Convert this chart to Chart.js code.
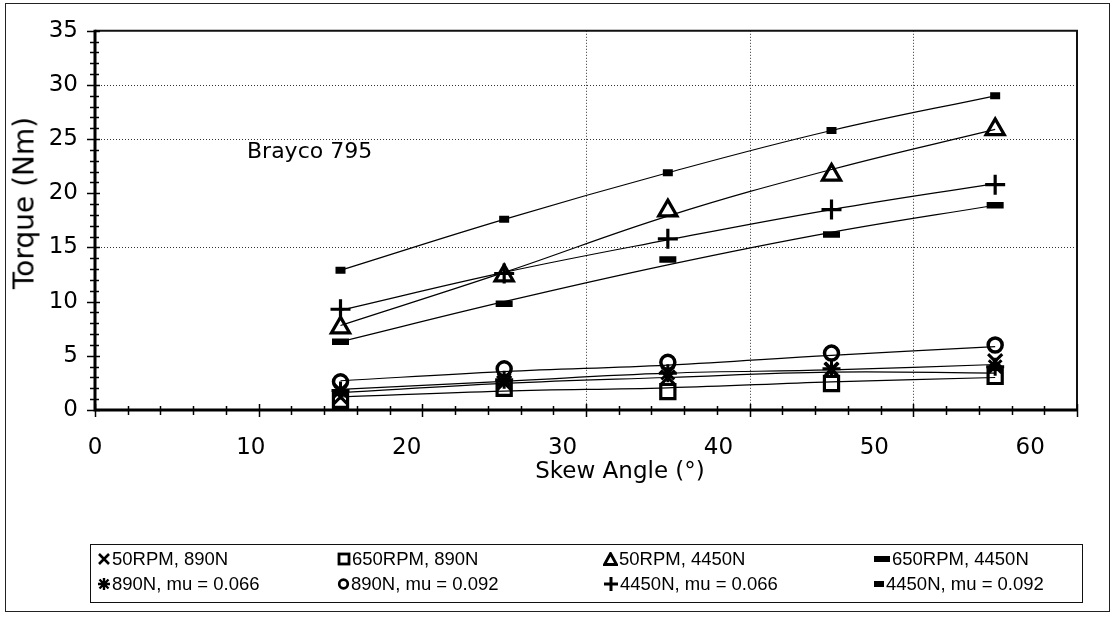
<!DOCTYPE html>
<html>
<head>
<meta charset="utf-8">
<script src="https://cdn.jsdelivr.net/npm/chart.js@4.4.1/dist/chart.umd.min.js"></script>
<style>
html,body{margin:0;padding:0;background:#fff;}
#wrap{position:relative;width:1115px;height:618px;overflow:hidden;background:#fff;}
#c{position:absolute;left:0;top:0;}
#frame{position:absolute;left:5px;top:3px;width:1103px;height:607px;border:1.5px solid #222;pointer-events:none;}
.txt{position:absolute;white-space:nowrap;color:#000;font-family:"DejaVu Sans",sans-serif;}
#note{left:247px;top:150px;font-size:22px;transform:translateY(-50%);}
#xTitle{left:620px;top:470px;font-size:23px;transform:translate(-50%,-50%);}
#yTitle{left:24px;top:203px;font-size:28px;transform:translate(-50%,-50%) rotate(-90deg);}
#legend{position:absolute;left:90px;top:544px;width:993px;height:59px;border:1.5px solid #111;box-sizing:border-box;}
.item{position:absolute;font:18.5px "Liberation Sans",Arial,sans-serif;white-space:nowrap;display:flex;align-items:center;height:20px;transform:translateY(-50%);}
.item svg{margin-right:1px;flex:none;}
</style>
</head>
<body>
<div id="wrap">
  <canvas id="c" width="1115" height="618"></canvas>
  <div id="note" class="txt">Brayco 795</div>
  <div id="xTitle" class="txt">Skew Angle (°)</div>
  <div id="yTitle" class="txt">Torque (Nm)</div>
  <div id="legend"></div>
  <div id="frame"></div>
</div>
<script>
// ---------- data ----------
const skewAngles = [15, 25, 35, 45, 55];

// measured points
const rpm50_890N    = [1.2, 2.5, 3.0, 3.7, 4.5];
const rpm650_890N   = [0.9, 2.0, 1.7, 2.45, 3.1];
const rpm50_4450N   = [7.6, 12.4, 18.4, 21.7, 25.9];
const rpm650_4450N  = [6.3, 9.8, 13.9, 16.2, 18.9];
const n890_mu066    = [1.8, 2.8, 3.4, 3.8, 4.0];
const n890_mu092    = [2.6, 3.8, 4.4, 5.25, 6.0];
const n4450_mu066   = [9.3, 12.6, 15.8, 18.5, 20.8];
const n4450_mu092   = [12.9, 17.6, 21.9, 25.8, 29.0];

// trend lines
const trend890_092  = [2.7, 3.55, 4.15, 5.05, 5.85];
const trend890_066  = [1.9, 2.65, 3.4, 3.7, 4.2];
const trend50_890   = [1.6, 2.45, 3.0, 3.5, 3.4];
const trend650_890  = [1.2, 1.75, 2.05, 2.6, 3.0];
const trend4450_092 = [12.9, 17.6, 21.9, 25.8, 29.0];
const trend50_4450  = [7.8, 12.7, 17.9, 22.2, 25.9];
const trend4450_066 = [9.2, 12.7, 15.7, 18.5, 20.9];
const trend650_4450 = [6.3, 10.0, 13.4, 16.4, 18.9];

const seriesLabels = ['50RPM, 890N', '650RPM, 890N', '50RPM, 4450N', '650RPM, 4450N',
                      '890N, mu = 0.066', '890N, mu = 0.092', '4450N, mu = 0.066', '4450N, mu = 0.092'];

const xMin = 0, xMax = 60, xMajor = 10, xMinor = 2;
const yMin = 0, yMax = 35, yMajor = 5, yMinor = 1;
// x tick labels in the picture sit on a slightly tighter spacing than the grid
const xLabelAxisMax = 63.0;
const xGridShown = [30, 40, 50];
const yGridShown = [15, 25, 30];

// ---------- styles ----------
const pts = ys => skewAngles.map((x, i) => ({x: x, y: ys[i]}));
const markerStyles = [
  {style: 'crossRot', r: 10, bw: 3},
  {style: 'rect', r: 10, bw: 3.2},
  {style: 'triangle', r: 10.5, bw: 3.2},
  {style: 'line', r: 8.5, bw: 6.5},
  {style: 'star', r: 9, bw: 3},
  {style: 'circle', r: 7, bw: 3.5},
  {style: 'cross', r: 10, bw: 3.2},
  {style: 'line', r: 5, bw: 7}
];
const markerData = [rpm50_890N, rpm650_890N, rpm50_4450N, rpm650_4450N, n890_mu066, n890_mu092, n4450_mu066, n4450_mu092];
const trendData = [trend50_890, trend650_890, trend50_4450, trend650_4450, trend890_066, trend890_092, trend4450_066, trend4450_092];

const datasets = [];
markerData.forEach((d, i) => {
  const m = markerStyles[i];
  datasets.push({
    label: seriesLabels[i], data: pts(d), showLine: false, xAxisID: 'x', yAxisID: 'y',
    pointStyle: m.style, pointRadius: m.r, pointHoverRadius: m.r,
    pointBorderWidth: m.bw, pointHoverBorderWidth: m.bw,
    pointBorderColor: '#000', pointBackgroundColor: 'rgba(0,0,0,0)'
  });
});
trendData.forEach((d, i) => {
  datasets.push({
    label: seriesLabels[i] + ' trend', data: pts(d), showLine: true, xAxisID: 'x', yAxisID: 'y',
    borderColor: '#000', borderWidth: 1.2, pointRadius: 0, pointHoverRadius: 0,
    tension: 0.4, fill: false
  });
});

const decoPlugin = {
  id: 'deco',
  beforeDatasetsDraw(chart) {
    const {ctx, chartArea: a, scales: {x, y}} = chart;
    ctx.save();
    ctx.strokeStyle = '#333'; ctx.lineWidth = 1; ctx.setLineDash([1, 2]);
    xGridShown.forEach(v => {
      const px = Math.round(x.getPixelForValue(v)) + 0.5;
      ctx.beginPath(); ctx.moveTo(px, a.top); ctx.lineTo(px, a.bottom); ctx.stroke();
    });
    yGridShown.forEach(v => {
      const py = Math.round(y.getPixelForValue(v)) + 0.5;
      ctx.beginPath(); ctx.moveTo(a.left, py); ctx.lineTo(a.right, py); ctx.stroke();
    });
    ctx.setLineDash([]);
    ctx.strokeStyle = '#111'; ctx.lineWidth = 2;
    ctx.beginPath(); ctx.moveTo(a.left, a.top); ctx.lineTo(a.right, a.top); ctx.lineTo(a.right, a.bottom); ctx.stroke();
    ctx.strokeStyle = '#000'; ctx.lineWidth = 3;
    ctx.beginPath(); ctx.moveTo(a.left, a.top - 1); ctx.lineTo(a.left, a.bottom); ctx.lineTo(a.right, a.bottom); ctx.stroke();
    ctx.lineWidth = 1.5;
    for (let v = yMin; v <= yMax + 1e-9; v += yMinor) {
      const py = Math.round(y.getPixelForValue(v)) + 0.5;
      const major = Math.abs(v % yMajor) < 1e-9;
      ctx.beginPath(); ctx.moveTo(a.left - (major ? 8 : 5), py); ctx.lineTo(a.left + (major ? 5 : 4), py); ctx.stroke();
    }
    for (let v = xMin; v <= xMax + 1e-9; v += xMinor) {
      const px = Math.round(x.getPixelForValue(v)) + 0.5;
      const major = Math.abs(v % xMajor) < 1e-9;
      ctx.beginPath(); ctx.moveTo(px, a.bottom - (major ? 6 : 4)); ctx.lineTo(px, a.bottom + (major ? 7 : 5)); ctx.stroke();
    }
    ctx.restore();
  }
};

const tickFont = {family: 'DejaVu Sans', size: 23};

new Chart(document.getElementById('c'), {
  type: 'scatter',
  data: {datasets: datasets},
  options: {
    responsive: false, animation: false, devicePixelRatio: 1, events: [],
    layout: {padding: {left: 0, right: 38, top: 30, bottom: 128}},
    plugins: {legend: {display: false}, tooltip: {enabled: false}},
    scales: {
      x: {
        type: 'linear', min: xMin, max: xMax, weight: 1,
        afterFit: s => { s.height = 0; },
        grid: {display: false, drawTicks: false},
        border: {display: false},
        ticks: {display: false, stepSize: xMajor}
      },
      xl: {
        type: 'linear', position: 'bottom', min: xMin, max: xLabelAxisMax, weight: 0,
        afterFit: s => { s.height = 80; },
        grid: {display: false, drawTicks: false},
        border: {display: false},
        ticks: {stepSize: xMajor, includeBounds: false, padding: 24, color: '#000', font: tickFont, maxRotation: 0, autoSkip: false}
      },
      y: {
        type: 'linear', min: yMin, max: yMax,
        afterFit: s => { s.width = 95; },
        grid: {display: false, drawTicks: false},
        border: {display: false},
        ticks: {stepSize: yMajor, padding: 17, color: '#000', font: tickFont}
      }
    }
  },
  plugins: [decoPlugin]
});

// ---------- HTML legend ----------
const legendIcons = [
  '<svg width="14" height="14"><path d="M2 2L12 12M12 2L2 12" stroke="#000" stroke-width="2.6"/></svg>',
  '<svg width="14" height="14"><rect x="2" y="2" width="10" height="10" fill="none" stroke="#000" stroke-width="2.8"/></svg>',
  '<svg width="15" height="14"><path d="M7.5 1.5L13.5 12.5L1.5 12.5Z" fill="none" stroke="#000" stroke-width="2.8"/></svg>',
  '<svg width="18" height="14"><rect x="1" y="4" width="16" height="6" fill="#000"/></svg>',
  '<svg width="14" height="14"><path d="M7 1V13M1 7H13M2.5 2.5L11.5 11.5M11.5 2.5L2.5 11.5" stroke="#000" stroke-width="2.4"/></svg>',
  '<svg width="13" height="14"><circle cx="6.5" cy="7" r="4.3" fill="none" stroke="#000" stroke-width="2.7"/></svg>',
  '<svg width="16" height="16"><path d="M8 1V15M1 8H15" stroke="#000" stroke-width="3"/></svg>',
  '<svg width="12" height="14"><rect x="1" y="4" width="10" height="6" fill="#000"/></svg>'
];
const legendCols = [6, 246, 512, 782];
const legendRows = [14, 39];
const legendEl = document.getElementById('legend');
seriesLabels.forEach((lab, i) => {
  const d = document.createElement('div');
  d.className = 'item';
  d.style.left = legendCols[i % 4] + 'px';
  d.style.top = legendRows[Math.floor(i / 4)] + 'px';
  d.innerHTML = legendIcons[i] + '<span>' + lab + '</span>';
  legendEl.appendChild(d);
});
</script>
</body>
</html>
